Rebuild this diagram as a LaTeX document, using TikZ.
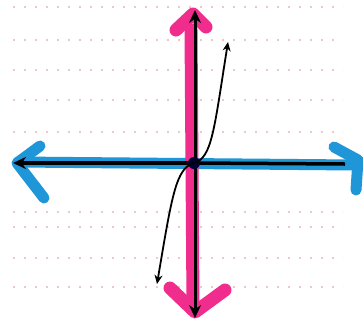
\documentclass[tikz,border=0pt]{standalone}
\usetikzlibrary{arrows.meta}
\definecolor{axblue}{RGB}{30,150,215}
\definecolor{axpink}{RGB}{240,45,140}
\definecolor{gridc}{RGB}{238,200,200}
\tikzset{
  gridline/.style={gridc, line width=1.2pt, dash pattern=on 2pt off 9pt},
  bluestroke/.style={axblue, line width=11pt, line cap=round, line join=round},
  pinkstroke/.style={axpink, line width=13pt, line cap=round, line join=round},
  curvestyle/.style={black, line width=1.8pt, {Stealth[length=9pt,width=8pt]}-{Stealth[length=9pt,width=8pt]}}
}
\begin{document}
\begin{tikzpicture}[x=1pt,y=-1pt]
\useasboundingbox (0,0) rectangle (363,322);
\fill[white] (0,0) rectangle (363,322);
% faint grid
\foreach \yy in {7,40,70,100,132,212,227,258,287}{
  \draw[gridline] (13,\yy) -- (343,\yy);
}
% named points
\coordinate (O) at (194,163);
\coordinate (L) at (13,163);
\coordinate (T) at (195,10);
\coordinate (B) at (195,318);
\coordinate (C1) at (157,284);
\coordinate (C2) at (228,42);
% blue axis
\draw[bluestroke] (18,162) -- (355,165);
\draw[bluestroke] (40,146) -- (17,163) -- (44,198);
\draw[bluestroke] (334,147) -- (358,160) -- (356,190);
% pink axis
\draw[pinkstroke] (191,30) -- (193,305);
\draw[pinkstroke] (176,30) -- (193,14) -- (206,27);
\draw[pinkstroke] (170,288) -- (195,312) -- (225,290);
% black axes
\draw[black, line width=3.5pt, -{Stealth[length=13pt,width=12pt]}] (O) -- (L);
\draw[black, line width=3.5pt] (O) -- (345,164);
\draw[black, line width=3pt, {Stealth[length=13pt,width=12pt]}-{Stealth[length=13pt,width=12pt]}] (T) -- (B);
\fill[black!80!blue] (O) circle (6pt);
% cubic curve
\draw[curvestyle] (C1) .. controls (172,195) and (176,168) .. (O) .. controls (212,158) and (214,130) .. (C2);
\end{tikzpicture}
\end{document}
